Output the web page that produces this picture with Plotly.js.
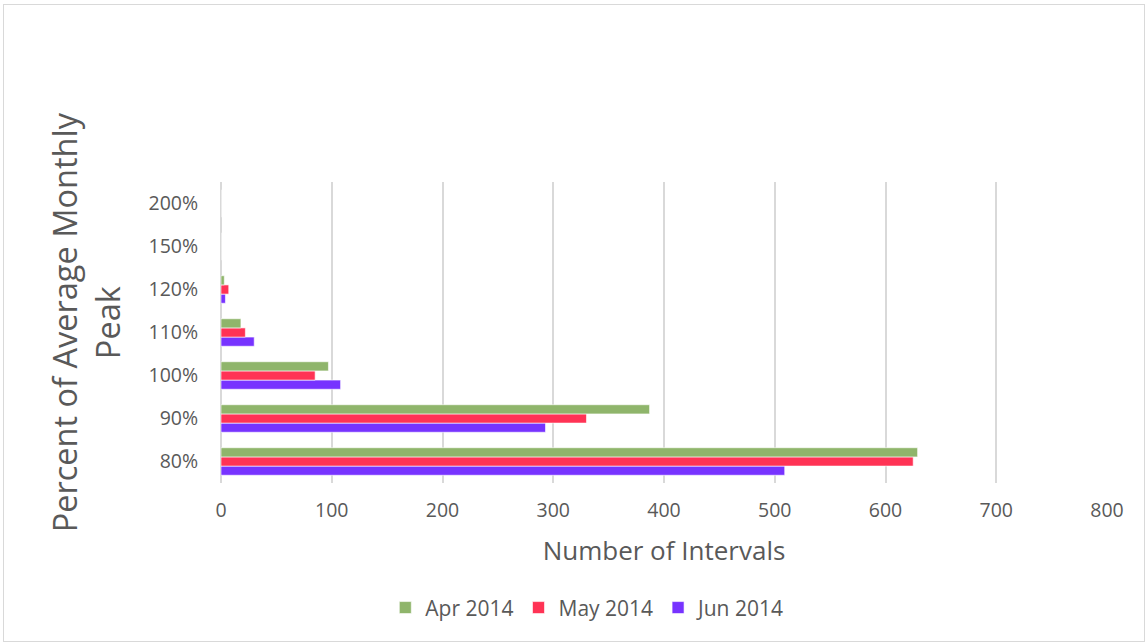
<!DOCTYPE html>
<html>
<head>
<meta charset="utf-8">
<script src="https://cdn.plot.ly/plotly-3.0.1.min.js"></script>
<style>
  body { margin: 0; background: #fff; }
  #chart { position: absolute; left: 3px; top: 4px; width: 1140px; height: 636px; border: 1px solid #d9d9d9; }
</style>
</head>
<body>
<div id="chart"></div>
<script>
// categories, bottom to top
let levels = ['80%', '90%', '100%', '110%', '120%', '150%', '200%'];

// number of intervals per month
let apr2014 = [629, 387, 97, 18, 3, 0, 0];
let may2014 = [625, 330, 85, 22, 7, 0, 0];
let jun2014 = [509, 293, 108, 30, 4, 0, 0];

let xTicks = [0, 100, 200, 300, 400, 500, 600, 700, 800];

function makeBar(name, values, color) {
    return {
        type: 'bar',
        orientation: 'h',
        name: name,
        y: levels,
        x: values,
        marker: {
            color: color,
            line: {color: 'rgba(255,255,255,0.6)', width: 1}
        },
        hoverinfo: 'x+name'
    };
}

// plotly puts the first trace at the bottom of a group, so Jun goes first
let data = [
    makeBar('Jun 2014', jun2014, '#7733ff'),
    makeBar('May 2014', may2014, '#ff3355'),
    makeBar('Apr 2014', apr2014, '#8fb56b')
];

let fontFam = '"Open Sans", sans-serif';

let layout = {
    width: 1140,
    height: 636,
    paper_bgcolor: '#fff',
    plot_bgcolor: '#fff',
    barmode: 'group',
    bargap: 0.36,
    bargroupgap: 0,
    margin: {l: 217, r: 37, t: 177, b: 158},
    font: {family: fontFam, color: '#595959'},
    showlegend: true,
    legend: {
        orientation: 'h',
        traceorder: 'reversed',
        x: 0.414, xanchor: 'center',
        y: -0.415, yanchor: 'middle',
        font: {size: 21, color: '#595959'},
        itemwidth: 30
    },
    xaxis: {
        range: [0, 800],
        tickvals: xTicks,
        showgrid: true,
        gridcolor: '#d9d9d9',
        gridwidth: 1.5,
        zeroline: true,
        zerolinecolor: '#d9d9d9',
        zerolinewidth: 1.5,
        showline: false,
        ticks: 'outside',
        ticklen: 10,
        tickcolor: 'rgba(0,0,0,0)',
        tickfont: {size: 19.5, color: '#595959'},
        title: {text: 'Number of Intervals', font: {size: 26, color: '#595959'}, standoff: 19}
    },
    yaxis: {
        type: 'category',
        categoryorder: 'array',
        categoryarray: levels,
        showgrid: false,
        zeroline: false,
        showline: false,
        ticks: 'outside',
        ticklen: 18,
        tickcolor: 'rgba(0,0,0,0)',
        tickfont: {size: 19.5, color: '#595959'}
    },
    annotations: [{
        text: 'Percent of Average Monthly<br>Peak',
        xref: 'paper', yref: 'paper',
        x: -0.152, y: 0.535,
        xanchor: 'center', yanchor: 'middle',
        textangle: -90,
        showarrow: false,
        font: {size: 32.5, color: '#595959'}
    }]
};

Plotly.newPlot('chart', data, layout, {displayModeBar: false});
</script>
</body>
</html>
